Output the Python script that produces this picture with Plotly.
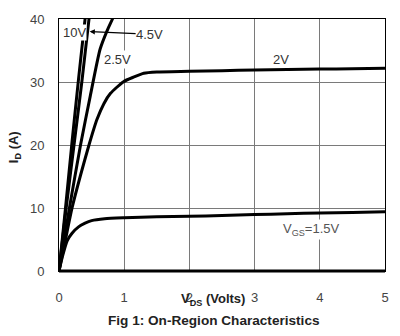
import plotly.graph_objects as go

# V_DS (Volts) / I_D (A) for each V_GS curve
vds_10 = [0, 0.1, 0.2, 0.3, 0.4, 0.45]
id_10 = [0, 10, 20.5, 30.5, 40, 44.5]

vds_45 = [0, 0.11, 0.23, 0.35, 0.46, 0.5]
id_45 = [0, 10, 20, 30, 40, 43.5]

vds_25 = [0, 0.16, 0.33, 0.48, 0.63, 0.74, 0.82, 0.86]
id_25 = [0, 10, 20, 27.8, 35.2, 38.2, 40, 41]

vds_2 = [0, 0.1, 0.2, 0.33, 0.46, 0.58, 0.69, 0.79, 0.99, 1.15, 1.3, 1.5, 2, 2.5, 3, 3.5, 4, 4.5, 5]
id_2 = [0, 5, 10, 15.2, 20, 24, 26.6, 28.2, 30.05, 30.8, 31.4, 31.6, 31.7, 31.8, 31.9, 32.0, 32.05, 32.1, 32.2]

vds_15 = [0, 0.05, 0.125, 0.2, 0.3, 0.4, 0.5, 0.7, 1, 1.5, 2, 2.5, 3, 3.5, 4, 4.5, 5]
id_15 = [0, 2.2, 4.8, 6.0, 7.0, 7.6, 8.0, 8.3, 8.45, 8.6, 8.7, 8.8, 8.95, 9.1, 9.2, 9.3, 9.4]

x_ticks = [0, 1, 2, 3, 4, 5]
y_ticks = [0, 10, 20, 30, 40]

FONT = "Liberation Sans, Arial, sans-serif"

fig = go.Figure()
for xs, ys in [(vds_10, id_10), (vds_45, id_45), (vds_25, id_25), (vds_2, id_2), (vds_15, id_15)]:
    fig.add_trace(go.Scatter(x=xs, y=ys, mode="lines",
                             line=dict(color="black", width=3, shape="spline", smoothing=0.6),
                             showlegend=False, hoverinfo="skip"))

fig.update_layout(
    width=400, height=336,
    margin=dict(l=59, r=15, t=19, b=65),
    paper_bgcolor="white", plot_bgcolor="white",
    font=dict(family=FONT, size=13, color="#333"),
    xaxis=dict(range=[0, 5], tickvals=x_ticks, showgrid=True, gridcolor="#7a7a7a", gridwidth=1.4,
               showline=True, linecolor="black", linewidth=1, mirror=True, zeroline=False,
               ticks="outside", ticklen=14, tickcolor="rgba(0,0,0,0)",
               tickfont=dict(family=FONT, size=13, color="#444")),
    yaxis=dict(range=[0, 40], tickvals=y_ticks, showgrid=True, gridcolor="#7a7a7a", gridwidth=1.4,
               showline=True, linecolor="black", linewidth=1, mirror=True, zeroline=False,
               ticks="outside", ticklen=11, tickcolor="rgba(0,0,0,0)",
               tickfont=dict(family=FONT, size=13, color="#444")),
)

# thick bottom axis line
fig.add_shape(type="line", xref="paper", yref="paper", x0=0, x1=1, y0=0, y1=0,
              line=dict(color="black", width=3))

ann_font = dict(family=FONT, size=13, color="#333")
fig.add_annotation(x=0.24, y=37.8, text="10V", showarrow=False, font=ann_font, bgcolor="white", borderpad=0)
fig.add_annotation(x=0.47, y=38.0, ax=1.39, ay=37.6, axref="x", ayref="y", text="4.5V",
                   showarrow=True, arrowhead=2, arrowsize=0.8, arrowwidth=1.3, arrowcolor="black",
                   font=ann_font, bgcolor="white", borderpad=0)
fig.add_annotation(x=0.90, y=33.6, text="2.5V", showarrow=False, font=ann_font, bgcolor="white", borderpad=1)
fig.add_annotation(x=3.41, y=33.6, text="2V", showarrow=False, font=ann_font)
fig.add_annotation(x=3.87, y=6.6, text="V<sub>GS</sub>=1.5V", showarrow=False,
                   font=dict(family=FONT, size=13, color="#555"), bgcolor="white", borderpad=1)

# axis titles and caption
fig.add_annotation(xref="paper", yref="paper", x=0.473, y=-0.112, yanchor="middle",
                   text="<b>V<sub>DS</sub> (Volts)</b>", showarrow=False,
                   font=dict(family=FONT, size=13, color="#222"))
fig.add_annotation(xref="paper", yref="paper", x=0.476, y=-0.196, yanchor="middle",
                   text="<b>Fig 1: On-Region Characteristics</b>", showarrow=False,
                   font=dict(family=FONT, size=13.6, color="#222"))
fig.add_annotation(xref="paper", yref="paper", x=-0.136, y=0.49, xanchor="center", yanchor="middle",
                   textangle=-90, text="<b>I<sub>D</sub> (A)</b>", showarrow=False,
                   font=dict(family=FONT, size=13, color="#222"))

fig.write_html("out.html")
